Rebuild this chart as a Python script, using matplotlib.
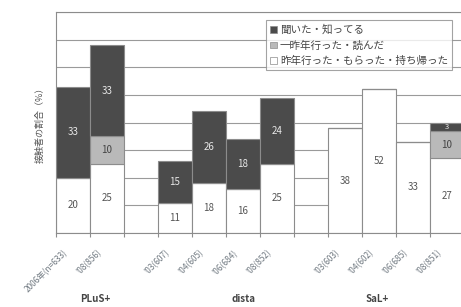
import matplotlib.pyplot as plt
from matplotlib.patches import Patch
import matplotlib.transforms as mtransforms
import numpy as np

plt.rcParams['font.family'] = ['Noto Sans CJK JP', 'DejaVu Sans']

# data
tick_labels = ["2006年(n=633)", "'08(856)",
               "'03(607)", "'04(605)", "'06(684)", "'08(852)",
               "'03(603)", "'04(602)", "'06(685)", "'08(851)"]
slots = [0, 1, 3, 4, 5, 6, 8, 9, 10, 11]
last_year = [20, 25, 11, 18, 16, 25, 38, 52, 33, 27]   # 昨年行った・もらった・持ち帰った
two_years = [0, 10, 0, 0, 0, 0, 0, 0, 0, 10]          # 一昨年行った・読んだ
heard = [33, 33, 15, 26, 18, 24, 0, 0, 0, 3]           # 聞いた・知ってる
groups = ["PLuS+", "dista", "SaL+"]
group_x = [0.65, 5.0, 8.95]

legend_labels = ["聞いた・知ってる", "一昨年行った・読んだ", "昨年行った・もらった・持ち帰った"]

c_dark = '#4b4b4b'
c_light = '#b9b9b9'
c_white = '#ffffff'
c_edge = '#8c8c8c'

fig = plt.figure(figsize=(4.61, 3.07), dpi=100)
ax = fig.add_axes([56/461, 74/307, 408/461, 221/307])

x = np.array(slots)
w = np.array(last_year)
l = np.array(two_years)
d = np.array(heard)

ax.bar(x, w, width=1.0, color=c_white, edgecolor=c_edge, linewidth=0.8, zorder=2)
ax.bar(x, l, width=1.0, bottom=w, color=c_light, edgecolor=c_edge, linewidth=0.8, zorder=2)
ax.bar(x, d, width=1.0, bottom=w + l, color=c_dark, edgecolor=c_edge, linewidth=0.8, zorder=2)

for xi, wi, li, di in zip(x, w, l, d):
    ax.text(xi, wi / 2, str(wi), ha='center', va='center', fontsize=7, color='#555555', zorder=3)
    if li > 0:
        ax.text(xi, wi + li / 2, str(li), ha='center', va='center', fontsize=7, color='#444444', zorder=3)
    if di > 0:
        ax.text(xi, wi + li + di / 2, str(di), ha='center', va='center', fontsize=7 if di > 5 else 5.5,
                color='#e8e8e8', zorder=3)

ax.set_xlim(-0.5, 11.5)
ax.set_ylim(0, 80)
ax.set_yticks(np.arange(0, 81, 10))
ax.yaxis.grid(True, color='#9a9a9a', linewidth=0.8, zorder=0)
ax.set_axisbelow(True)
ax.tick_params(axis='y', length=0, labelleft=False)
ax.set_xticks(x)
ax.set_xticklabels(tick_labels, rotation=45, ha='right', va='top', fontsize=6, color='#6f7880')
ax.tick_params(axis='x', which='major', length=0, pad=11)
ax.set_xticks(np.arange(-0.5, 11.6, 1), minor=True)
ax.tick_params(axis='x', which='minor', length=3, color=c_edge, width=0.8)
shift = mtransforms.ScaledTranslation(-4/100, 0, fig.dpi_scale_trans)
for lbl in ax.get_xticklabels():
    lbl.set_transform(lbl.get_transform() + shift)
for side in ['left', 'top', 'bottom']:
    ax.spines[side].set_color(c_edge)
    ax.spines[side].set_linewidth(0.8)
ax.spines['right'].set_visible(False)

ax.set_ylabel("接触者の割合（%）", fontsize=6.5, color='#555555', labelpad=8)

for gx, g in zip(group_x, groups):
    ax.text(gx, -0.30, g, transform=ax.get_xaxis_transform(), ha='center', va='center',
            fontsize=7, fontweight='bold', color='#444444')

handles = [Patch(facecolor=c_dark, edgecolor=c_edge, linewidth=0.5),
           Patch(facecolor=c_light, edgecolor=c_edge, linewidth=0.5),
           Patch(facecolor=c_white, edgecolor=c_edge, linewidth=0.5)]
leg = ax.legend(handles, legend_labels, loc='upper left', bbox_to_anchor=(0.515, 0.962),
                fontsize=7.6, frameon=True, fancybox=False, handlelength=0.6, handleheight=0.6,
                handletextpad=0.3, borderpad=0.4, labelspacing=0.5, borderaxespad=0)
leg.get_frame().set_edgecolor(c_edge)
leg.get_frame().set_linewidth(0.8)
for t in leg.get_texts():
    t.set_color('#444444')

fig.savefig('out.png', dpi=100)
